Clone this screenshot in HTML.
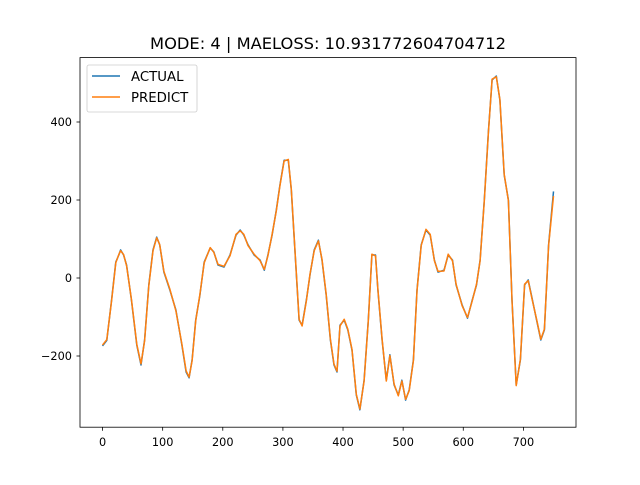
<!DOCTYPE html>
<html><head><meta charset="utf-8"><style>
body{margin:0;background:#fff;}
svg text{font-family:"DejaVu Sans","Liberation Sans",sans-serif;}
</style></head><body>
<svg id="c" width="640" height="480" viewBox="0 0 640 480" xmlns="http://www.w3.org/2000/svg">
<rect width="640" height="480" fill="#fff"/>
<text x="328" y="49" font-size="16.3" text-anchor="middle">MODE: 4 | MAELOSS: 10.931772604704712</text>
<g id="axes"></g>
<g id="series"></g>
<rect x="80" y="57.6" width="496" height="369.6" fill="none" stroke="#000" stroke-width="0.8"/>
<g>
<rect x="87" y="65" width="110" height="47" rx="2" fill="#fff" fill-opacity="0.8" stroke="#ccc" stroke-width="0.8"/>
<g><line x1="92" y1="76" x2="120" y2="76" stroke="#1f77b4" stroke-width="1.5"/><text x="131" y="81" font-size="13.3">ACTUAL</text></g>
<g><line x1="92" y1="97" x2="120" y2="97" stroke="#ff7f0e" stroke-width="1.5"/><text x="131" y="102" font-size="13.3">PREDICT</text></g>
</g>
</svg>
<script>
const xs=[0,7,15,22,27,30,35,40,48,57,64,70,77,84,90,95,102,112,122,132,139,144,149,155,162,169,179,185,192,202,212,222,229,235,242,252,262,269,275,282,289,295,302,309,314,320,327,332,339,345,352,359,365,372,379,385,390,395,402,408,415,422,428,435,442,448,454,458,465,472,478,485,492,498,504,510,517,523,530,538,545,552,558,568,575,582,588,598,607,615,622,628,635,642,648,655,661,668,675,681,688,695,702,708,715,722,729,735,742,750];
const actual=[-174,-160,-56,41,59,72,59,33,-56,-172,-223,-159,-18,72,105,85,15,-31,-82,-172,-241,-256,-210,-108,-44,41,77,67,33,28,59,110,123,110,85,59,46,20,59,110,174,238,302,302,226,72,-108,-121,-56,8,72,97,46,-44,-159,-223,-241,-121,-108,-133,-185,-300,-338,-262,-108,59,59,-31,-159,-262,-197,-274,-300,-262,-313,-287,-210,-31,85,123,110,46,15,20,59,46,-18,-69,-103,-56,-18,46,200,379,508,518,456,264,200,-56,-274,-210,-18,-5,-56,-108,-159,-133,85,222];
const predict=[-172,-158,-58,39,60,70,60,31,-54,-170,-220,-161,-20,70,103,86,17,-29,-84,-170,-238,-254,-212,-110,-42,39,78,66,35,30,57,112,121,112,83,61,44,22,57,112,172,236,300,304,228,74,-106,-123,-58,10,70,95,48,-42,-157,-221,-239,-123,-106,-131,-183,-298,-336,-264,-110,61,57,-29,-157,-264,-199,-272,-302,-264,-311,-289,-212,-33,83,125,112,44,17,18,61,44,-16,-71,-101,-58,-16,44,198,377,510,516,458,266,198,-58,-276,-208,-16,-7,-58,-106,-157,-131,83,210];
const xTicks=[0,100,200,300,400,500,600,700];
const yTicks=[-200,0,200,400];
const X=v=>80+(v+37.5)*(496/825);
const Y=v=>278-v*0.39;
const NS="http://www.w3.org/2000/svg";
const ax=document.getElementById('axes');
function mk(t,a,p){const e=document.createElementNS(NS,t);for(const k in a)e.setAttribute(k,a[k]);p.appendChild(e);return e;}
xTicks.forEach(t=>{
 const g=mk('g',{},ax);
 
 
 mk('line',{x1:X(t),x2:X(t),y1:427.2,y2:430.7,stroke:'#000','stroke-width':0.8},g);
 const tx=mk('text',{x:X(t),y:446,'font-size':11.3,'text-anchor':'middle'},g);tx.textContent=t;
});
yTicks.forEach(t=>{
 const g=mk('g',{},ax);
 
 
 mk('line',{x1:76.5,x2:80,y1:Y(t),y2:Y(t),stroke:'#000','stroke-width':0.8},g);
 const tx=mk('text',{x:72,y:Y(t)+4,'font-size':11.3,'text-anchor':'end'},g);tx.textContent=t<0?'\u2212'+(-t):t;
});
const s=document.getElementById('series');
function line(vals,col,name){
 const d=vals.map((v,i)=>(i?'L':'M')+X(xs[i]).toFixed(1)+' '+Y(v).toFixed(1)).join('');
 const p=mk('path',{d:d,fill:'none',stroke:col,'stroke-width':1.5,'stroke-linejoin':'round'},s);
 
 
}
line(actual,'#1f77b4','actual-line');
line(predict,'#ff7f0e','predict-line');
</script>
</body></html>
